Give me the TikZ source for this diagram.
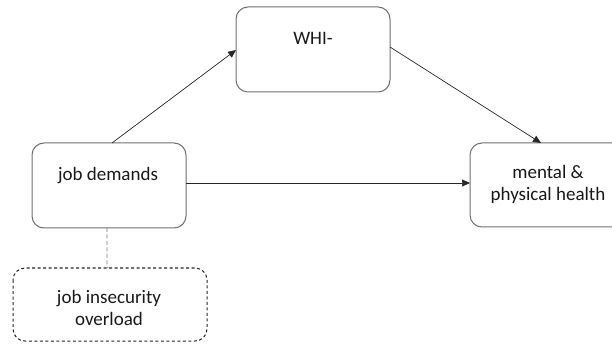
\documentclass[tikz,border=0pt]{standalone}
\usepackage{fontspec}
\setmainfont{Carlito}
\usetikzlibrary{arrows.meta}
\definecolor{boxgray}{RGB}{112,112,112}
\definecolor{linegray}{RGB}{40,40,40}
\definecolor{dashgray}{RGB}{120,120,120}
\begin{document}
\begin{tikzpicture}[x=1pt,y=-1pt,
  rbox/.style={draw=boxgray, line width=1pt, rounded corners=12pt, fill=white},
  dbox/.style={draw=black!85, line width=1pt, dash pattern=on 3pt off 2.5pt, rounded corners=12pt},
  conn/.style={draw=linegray, line width=0.7pt, -{Triangle[length=8pt,width=7pt]}},
  lbl/.style={font=\fontsize{19}{22}\selectfont, align=center, text=black!90, anchor=base, inner sep=0pt}
]
\useasboundingbox (0,0) rectangle (612,344);
\clip (0,0) rectangle (612,344);
% boxes
\draw[rbox] (236,7) rectangle (390,92);
\node[lbl] (whi) at (313,45) {WHI-};
\coordinate (whiL) at (236,50);
\coordinate (whiR) at (390,47);

\draw[rbox] (32,143) rectangle (186,228);
\node[lbl] (jd) at (108,181) {job demands};
\coordinate (jdT) at (112,143);
\coordinate (jdR) at (186,183);
\coordinate (jdB) at (107,228);

\draw[rbox] (470,143) rectangle (624,227);
\node[lbl] (mh) at (548,201) {mental \&\\physical health};
\coordinate (mhT) at (541,143);
\coordinate (mhL) at (470,183);

\draw[dbox] (13,268) rectangle (207,341);
\node[lbl] (ji) at (109,325) {job insecurity\\overload};
\coordinate (jiT) at (108,268);

% connectors
\draw[conn] (jdT) -- (whiL);
\draw[conn] (whiR) -- (mhT);
\draw[conn] (jdR) -- (mhL);
\draw[draw=dashgray, line width=0.8pt, dash pattern=on 4pt off 2.5pt] (jdB) -- (107,266) -- (jiT);
\end{tikzpicture}
\end{document}
